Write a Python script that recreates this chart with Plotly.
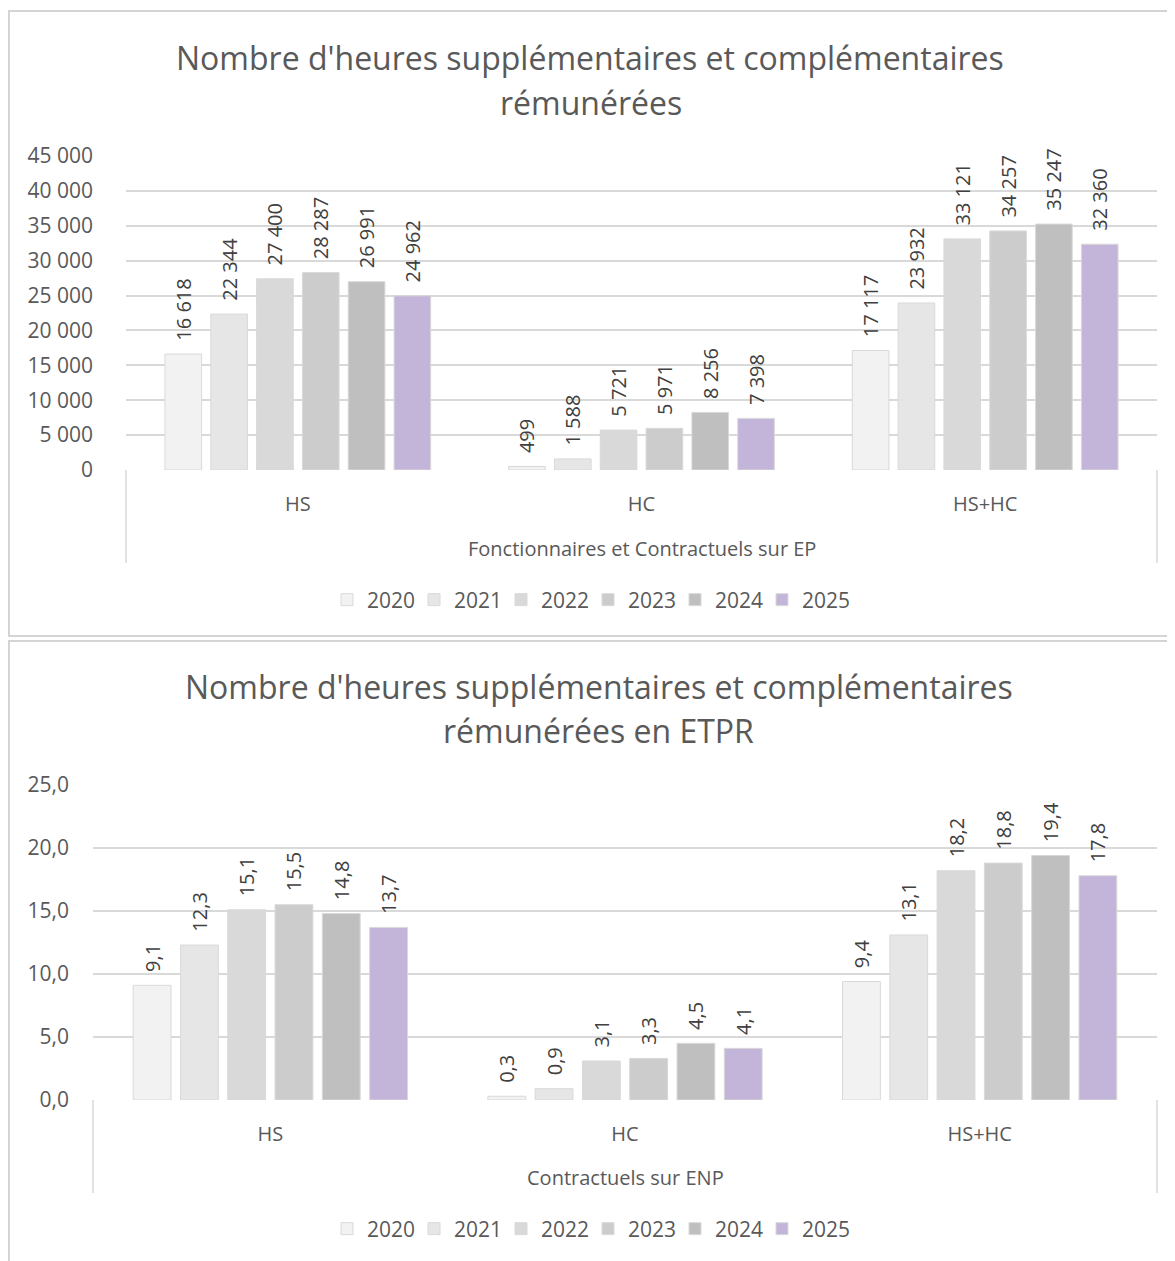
import plotly.graph_objects as go

# ---------------- data ----------------
categories = ["HS", "HC", "HS+HC"]
years = ["2020", "2021", "2022", "2023", "2024", "2025"]

hours_2020 = [16618, 499, 17117]
hours_2021 = [22344, 1588, 23932]
hours_2022 = [27400, 5721, 33121]
hours_2023 = [28287, 5971, 34257]
hours_2024 = [26991, 8256, 35247]
hours_2025 = [24962, 7398, 32360]

etpr_2020 = [9.1, 0.3, 9.4]
etpr_2021 = [12.3, 0.9, 13.1]
etpr_2022 = [15.1, 3.1, 18.2]
etpr_2023 = [15.5, 3.3, 18.8]
etpr_2024 = [14.8, 4.5, 19.4]
etpr_2025 = [13.7, 4.1, 17.8]

top_ticks = [0, 5000, 10000, 15000, 20000, 25000, 30000, 35000, 40000, 45000]
bottom_ticks = [0, 5, 10, 15, 20, 25]

# ---------------- style ----------------
OFF = 8  # page body margin in the browser
W, H = 1175 - OFF, 1261 - OFF
FONT = "Open Sans"
colors = ["#f2f2f2", "#e6e6e6", "#d9d9d9", "#cccccc", "#bfbfbf", "#c3b4d9"]
grid = "#d9d9d9"
txt = "#595959"
lab = "#404040"


def px_x(x):
    return (x - OFF) / W


def px_y(y):
    return 1 - (y - OFF) / H


PAD = "\u00a0\u00a0"


def fmt_int(v):
    return PAD + f"{v:,}".replace(",", " ")


def fmt_dec(v):
    return PAD + f"{v:.1f}".replace(".", ",")


fig = go.Figure()

top_series = [hours_2020, hours_2021, hours_2022, hours_2023, hours_2024, hours_2025]
bot_series = [etpr_2020, etpr_2021, etpr_2022, etpr_2023, etpr_2024, etpr_2025]

for yr, vals, col in zip(years, top_series, colors):
    fig.add_trace(go.Bar(
        x=categories, y=vals, name=yr, xaxis="x", yaxis="y",
        marker=dict(color=col, line=dict(color="#d9d9d9", width=1)),
        text=[fmt_int(v) for v in vals], textposition="outside", textangle=-90,
        constraintext="none",
        textfont=dict(family=FONT, size=20, color=lab), cliponaxis=False,
        legend="legend", offsetgroup=yr,
    ))

for yr, vals, col in zip(years, bot_series, colors):
    fig.add_trace(go.Bar(
        x=categories, y=vals, name=yr, xaxis="x2", yaxis="y2",
        marker=dict(color=col, line=dict(color="#d9d9d9", width=1)),
        text=[fmt_dec(v) for v in vals], textposition="outside", textangle=-90,
        constraintext="none",
        textfont=dict(family=FONT, size=20, color=lab), cliponaxis=False,
        legend="legend2", offsetgroup=yr,
    ))

axis_common = dict(showline=False, zeroline=False, automargin=False)
yfont = dict(family=FONT, size=21, color=txt)
xfont = dict(family=FONT, size=20, color=txt)

legend_common = dict(orientation="h", xanchor="center", yanchor="middle",
                     font=dict(family=FONT, size=21, color=txt), bgcolor="rgba(0,0,0,0)",
                     entrywidth=42, entrywidthmode="pixels")

fig.update_layout(
    width=W, height=H,
    margin=dict(l=0, r=0, t=0, b=0),
    paper_bgcolor="white", plot_bgcolor="white",
    font=dict(family=FONT, color=txt),
    barmode="group", bargap=0.2, bargroupgap=0.2,
    separators=", ",
    xaxis=dict(domain=[px_x(126), px_x(1157)], anchor="y", type="category",
               showgrid=False, ticks="", ticklabelstandoff=20, tickfont=xfont, **axis_common),
    yaxis=dict(domain=[px_y(470), px_y(156)], anchor="x", range=[0, 45000],
               tickvals=top_ticks, tickformat=",d", showgrid=True, gridcolor=grid,
               gridwidth=1.5, ticks="", ticklabelstandoff=32, tickfont=yfont, **axis_common),
    xaxis2=dict(domain=[px_x(93), px_x(1157)], anchor="y2", type="category",
                showgrid=False, ticks="", ticklabelstandoff=20, tickfont=xfont, **axis_common),
    yaxis2=dict(domain=[px_y(1100), px_y(785)], anchor="x2", range=[0, 25],
                tickvals=bottom_ticks, tickformat=".1f", showgrid=True, gridcolor=grid,
                gridwidth=1.5, ticks="", ticklabelstandoff=23, tickfont=yfont, **axis_common),
    legend=dict(x=px_x(588), y=px_y(600), **legend_common),
    legend2=dict(x=px_x(588), y=px_y(1229), **legend_common),
)

# chart frames
fig.add_shape(type="rect", xref="paper", yref="paper",
              x0=px_x(9), x1=px_x(1185), y0=px_y(636), y1=px_y(11),
              line=dict(color="#d4d4d4", width=2), layer="below")
fig.add_shape(type="rect", xref="paper", yref="paper",
              x0=px_x(9), x1=px_x(1185), y0=px_y(1275), y1=px_y(641),
              line=dict(color="#d4d4d4", width=2), layer="below")

# category axis box lines
for x, y0, y1 in [(126, 470, 563), (1157, 470, 563), (93, 1100, 1193), (1157, 1100, 1193)]:
    fig.add_shape(type="line", xref="paper", yref="paper",
                  x0=px_x(x), x1=px_x(x), y0=px_y(y0), y1=px_y(y1),
                  line=dict(color=grid, width=1.5))

# titles
for text, x, y in [
    ("Nombre d'heures supplémentaires et complémentaires", 590, 57),
    ("rémunérées", 591, 102),
    ("Nombre d'heures supplémentaires et complémentaires", 599, 686),
    ("rémunérées en ETPR", 598, 730),
]:
    fig.add_annotation(text=text, x=px_x(x), y=px_y(y), xref="paper", yref="paper",
                       showarrow=False, xanchor="center", yanchor="middle",
                       font=dict(family=FONT, size=32, color=txt))

# axis titles
for text, x, y in [
    ("Fonctionnaires et Contractuels sur EP", 642, 548),
    ("Contractuels sur ENP", 625, 1177),
]:
    fig.add_annotation(text=text, x=px_x(x), y=px_y(y), xref="paper", yref="paper",
                       showarrow=False, xanchor="center", yanchor="middle",
                       font=dict(family=FONT, size=20, color=txt))

fig.write_html("out.html")
